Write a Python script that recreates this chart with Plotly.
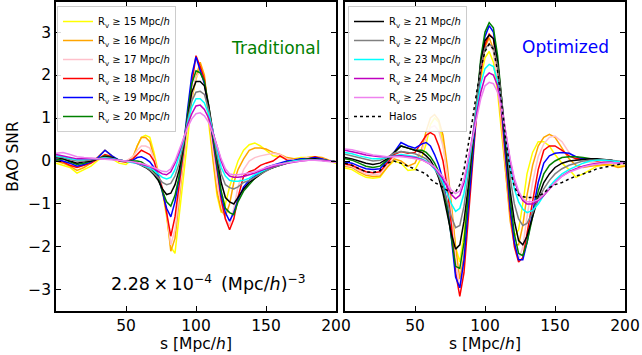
import plotly.graph_objects as go

# ---- data ----
s = [0, 5, 10, 15, 20, 25, 30, 35, 40, 45, 50, 55, 58, 61, 64, 67, 70, 73, 76, 79,
     82, 85, 88, 91, 94, 97, 100, 103, 106, 109, 112, 115, 118, 121, 124, 127, 130,
     134, 138, 142, 146, 150, 155, 160, 165, 170, 175, 180, 185, 190, 195, 200]

labels = ["R<sub>v</sub> ≥ 15 Mpc/<i>h</i>", "R<sub>v</sub> ≥ 16 Mpc/<i>h</i>",
          "R<sub>v</sub> ≥ 17 Mpc/<i>h</i>", "R<sub>v</sub> ≥ 18 Mpc/<i>h</i>",
          "R<sub>v</sub> ≥ 19 Mpc/<i>h</i>", "R<sub>v</sub> ≥ 20 Mpc/<i>h</i>",
          "R<sub>v</sub> ≥ 21 Mpc/<i>h</i>", "R<sub>v</sub> ≥ 22 Mpc/<i>h</i>",
          "R<sub>v</sub> ≥ 23 Mpc/<i>h</i>", "R<sub>v</sub> ≥ 24 Mpc/<i>h</i>",
          "R<sub>v</sub> ≥ 25 Mpc/<i>h</i>"]
halo_label = "Halos"

# Traditional (left panel)
trad_r15 = [-0.05, -0.1, -0.15, -0.28, -0.2, -0.12, 0.02, 0.1, 0.05, -0.05, -0.08, 0.05, 0.35, 0.55, 0.6, 0.55, 0.2, -0.25, -0.7, -1.3,
            -2.0, -2.15, -1.3, -0.3, 0.5, 1.45, 1.9, 2.2, 1.9, 0.9, 0.0, -0.8, -1.2, -1.0, -0.6, -0.3, 0.0,
            0.25, 0.38, 0.42, 0.35, 0.25, 0.12, 0.1, 0.05, 0.05, 0.08, 0.08, 0.1, 0.05, 0.0, -0.05]
trad_r16 = [0.0, -0.05, -0.12, -0.22, -0.15, -0.05, 0.1, 0.25, 0.12, 0.0, -0.02, 0.1, 0.35, 0.55, 0.55, 0.45, 0.1, -0.3, -0.65, -1.2,
            -2.1, -1.8, -0.9, 0.05, 0.9, 1.45, 1.95, 2.3, 2.0, 1.1, 0.1, -0.7, -1.15, -1.28, -1.0, -0.5, -0.2,
            0.05, 0.25, 0.3, 0.3, 0.28, 0.2, 0.15, 0.08, 0.05, 0.05, 0.08, 0.1, 0.08, 0.02, -0.02]
trad_r17 = [0.05, 0.0, -0.08, -0.15, -0.1, -0.05, 0.05, 0.12, 0.08, 0.0, 0.0, 0.1, 0.25, 0.35, 0.35, 0.3, 0.05, -0.3, -0.6, -1.2,
            -1.95, -1.6, -0.8, 0.1, 0.9, 1.5, 1.95, 2.1, 1.85, 1.1, 0.25, -0.5, -1.0, -1.35, -1.5, -1.1, -0.6,
            -0.2, 0.0, 0.08, 0.12, 0.15, 0.18, 0.15, 0.05, 0.02, 0.05, 0.08, 0.05, 0.05, 0.0, -0.03]
trad_r18 = [0.0, -0.02, -0.1, -0.15, -0.1, -0.05, 0.05, 0.15, 0.1, 0.0, -0.02, 0.05, 0.15, 0.25, 0.2, 0.15, 0.0, -0.3, -0.65, -1.2,
            -1.75, -1.3, -0.6, 0.2, 1.0, 1.8, 2.45, 2.2, 1.9, 1.2, 0.4, -0.3, -0.9, -1.35, -1.6, -1.35, -0.85,
            -0.35, -0.25, -0.2, -0.1, -0.05, 0.0, 0.12, 0.02, 0.0, 0.05, 0.05, 0.1, 0.05, 0.0, -0.02]
trad_r19 = [0.05, 0.0, -0.05, -0.12, -0.08, -0.02, 0.08, 0.25, 0.12, 0.02, 0.0, 0.02, 0.08, 0.1, 0.05, -0.02, -0.15, -0.35, -0.7, -1.1,
            -1.3, -0.95, -0.4, 0.3, 1.2, 2.0, 2.42, 2.1, 1.8, 1.2, 0.5, -0.2, -0.8, -1.2, -1.4, -1.2, -0.9,
            -0.6, -0.45, -0.35, -0.25, -0.15, -0.1, -0.05, 0.0, 0.02, 0.05, 0.05, 0.08, 0.05, 0.0, -0.02]
trad_r20 = [0.02, 0.05, -0.02, -0.08, -0.05, 0.0, 0.05, 0.12, 0.08, 0.02, 0.0, 0.0, 0.0, -0.02, -0.08, -0.15, -0.25, -0.4, -0.7, -0.95,
            -1.05, -0.8, -0.35, 0.3, 1.1, 1.8, 2.1, 2.05, 1.85, 1.3, 0.6, -0.1, -0.7, -1.1, -1.2, -1.25, -0.95,
            -0.7, -0.55, -0.4, -0.3, -0.2, -0.15, -0.08, -0.03, 0.0, 0.02, 0.05, 0.05, 0.03, 0.0, -0.02]
trad_r21 = [0.08, 0.05, 0.0, -0.05, -0.02, 0.0, 0.05, 0.1, 0.08, 0.02, 0.0, -0.02, -0.05, -0.1, -0.15, -0.22, -0.32, -0.45, -0.65, -0.78,
            -0.75, -0.55, -0.2, 0.35, 1.0, 1.6, 1.85, 1.85, 1.75, 1.3, 0.7, 0.05, -0.5, -0.85, -0.95, -1.0, -0.85,
            -0.65, -0.5, -0.4, -0.3, -0.22, -0.15, -0.1, -0.05, 0.0, 0.02, 0.03, 0.05, 0.02, 0.0, -0.02]
trad_r22 = [0.1, 0.08, 0.03, 0.0, 0.0, 0.02, 0.05, 0.08, 0.06, 0.02, 0.0, -0.03, -0.06, -0.1, -0.14, -0.2, -0.28, -0.38, -0.5, -0.55,
            -0.52, -0.35, -0.05, 0.4, 0.95, 1.4, 1.6, 1.62, 1.55, 1.2, 0.7, 0.15, -0.3, -0.55, -0.62, -0.65, -0.6,
            -0.5, -0.45, -0.38, -0.3, -0.22, -0.15, -0.1, -0.05, 0.0, 0.02, 0.03, 0.03, 0.02, 0.0, -0.02]
trad_r23 = [0.12, 0.1, 0.06, 0.03, 0.03, 0.05, 0.05, 0.07, 0.05, 0.02, 0.0, -0.03, -0.06, -0.09, -0.12, -0.16, -0.22, -0.3, -0.38, -0.42,
            -0.38, -0.2, 0.1, 0.45, 0.9, 1.25, 1.45, 1.45, 1.35, 1.1, 0.7, 0.25, -0.15, -0.35, -0.45, -0.47, -0.47,
            -0.45, -0.4, -0.32, -0.25, -0.2, -0.12, -0.08, -0.04, 0.0, 0.02, 0.03, 0.03, 0.02, 0.0, -0.02]
trad_r24 = [0.15, 0.12, 0.08, 0.05, 0.05, 0.06, 0.05, 0.05, 0.04, 0.02, 0.0, -0.02, -0.05, -0.08, -0.1, -0.13, -0.18, -0.25, -0.3, -0.32,
            -0.25, -0.05, 0.2, 0.5, 0.85, 1.1, 1.28, 1.3, 1.2, 1.0, 0.7, 0.35, 0.0, -0.25, -0.35, -0.38, -0.38,
            -0.36, -0.32, -0.28, -0.22, -0.18, -0.12, -0.08, -0.05, -0.02, 0.0, 0.02, 0.02, 0.02, 0.0, -0.02]
trad_r25 = [0.18, 0.2, 0.15, 0.1, 0.08, 0.06, 0.05, 0.04, 0.03, 0.02, 0.0, -0.02, -0.04, -0.06, -0.08, -0.12, -0.15, -0.2, -0.24, -0.25,
            -0.18, 0.0, 0.25, 0.5, 0.78, 0.98, 1.1, 1.12, 1.05, 0.9, 0.65, 0.35, 0.05, -0.18, -0.3, -0.32, -0.32,
            -0.3, -0.28, -0.25, -0.2, -0.15, -0.1, -0.07, -0.04, -0.02, 0.0, 0.02, 0.02, 0.0, -0.02, -0.03]

# Optimized (right panel)
opt_r15 = [-0.16, -0.2, -0.3, -0.38, -0.4, -0.38, -0.15, 0.0, -0.05, -0.22, -0.2, 0.1, 0.4, 0.85, 1.0, 0.9, 0.4, -0.3, -1.2, -2.0,
           -2.35, -1.7, -0.7, 0.2, 1.1, 1.9, 2.4, 2.55, 2.3, 1.6, 0.6, -0.4, -1.3, -1.75, -1.6, -1.0, -0.3,
           0.2, 0.45, 0.45, 0.35, 0.15, -0.05, -0.2, -0.38, -0.3, -0.2, -0.12, -0.1, -0.08, -0.12, -0.1]
opt_r16 = [-0.12, -0.15, -0.25, -0.33, -0.36, -0.35, -0.15, 0.05, 0.0, -0.12, -0.05, 0.3, 0.7, 1.0, 1.08, 0.95, 0.6, -0.1, -1.0, -2.0,
           -2.75, -2.2, -1.0, 0.1, 1.2, 2.1, 2.65, 2.87, 2.6, 1.8, 0.7, -0.4, -1.4, -1.95, -1.95, -1.5, -0.8,
           -0.1, 0.35, 0.55, 0.62, 0.55, 0.3, 0.05, -0.1, -0.15, -0.12, -0.1, -0.08, -0.1, -0.15, -0.12]
opt_r17 = [-0.1, -0.13, -0.22, -0.3, -0.32, -0.3, -0.1, 0.1, 0.15, 0.08, 0.05, 0.25, 0.55, 0.78, 0.82, 0.7, 0.35, -0.3, -1.2, -2.3,
           -2.95, -2.4, -1.1, 0.1, 1.2, 2.1, 2.6, 2.75, 2.55, 1.85, 0.85, -0.25, -1.2, -1.9, -2.3, -2.0, -1.3,
           -0.5, 0.1, 0.4, 0.55, 0.58, 0.45, 0.2, 0.05, 0.0, -0.02, -0.05, -0.05, -0.05, -0.08, -0.08]
opt_r18 = [-0.07, -0.1, -0.18, -0.25, -0.27, -0.25, -0.05, 0.15, 0.22, 0.18, 0.2, 0.45, 0.6, 0.66, 0.6, 0.35, 0.0, -0.6, -1.5, -2.6,
           -3.15, -2.6, -1.3, 0.0, 1.1, 2.05, 2.7, 2.95, 2.85, 2.2, 1.1, -0.1, -1.2, -2.0, -2.35, -2.25, -1.7,
           -0.9, -0.2, 0.25, 0.35, 0.35, 0.25, 0.12, 0.05, 0.05, 0.02, 0.0, 0.02, 0.0, -0.03, -0.05]
opt_r19 = [-0.02, -0.05, -0.12, -0.18, -0.2, -0.18, 0.0, 0.2, 0.43, 0.35, 0.3, 0.4, 0.43, 0.35, 0.15, -0.1, -0.45, -1.0, -1.8, -2.7,
           -2.95, -2.3, -1.1, 0.1, 1.3, 2.3, 2.9, 3.15, 3.0, 2.3, 1.2, 0.0, -1.1, -1.9, -2.3, -2.3, -1.9,
           -1.2, -0.5, -0.05, 0.12, 0.18, 0.2, 0.18, 0.1, 0.05, 0.05, 0.02, 0.03, 0.02, -0.02, -0.03]
opt_r20 = [0.05, 0.02, -0.05, -0.12, -0.15, -0.12, 0.02, 0.18, 0.35, 0.3, 0.25, 0.25, 0.2, 0.1, -0.05, -0.25, -0.6, -1.1, -1.8, -2.45,
           -2.5, -1.9, -0.8, 0.3, 1.4, 2.4, 3.0, 3.22, 3.1, 2.45, 1.4, 0.2, -0.9, -1.7, -2.15, -2.2, -1.9,
           -1.3, -0.7, -0.3, -0.1, 0.0, 0.08, 0.1, 0.1, 0.08, 0.05, 0.03, 0.03, 0.02, -0.02, -0.03]
opt_r21 = [0.08, 0.05, 0.0, -0.05, -0.08, -0.05, 0.05, 0.2, 0.35, 0.3, 0.25, 0.2, 0.12, 0.02, -0.15, -0.4, -0.75, -1.2, -1.7, -2.05,
           -1.95, -1.4, -0.6, 0.4, 1.4, 2.3, 2.8, 2.93, 2.85, 2.3, 1.4, 0.3, -0.7, -1.4, -1.85, -1.95, -1.75,
           -1.3, -0.85, -0.5, -0.3, -0.15, -0.05, 0.0, 0.02, 0.03, 0.05, 0.05, 0.03, 0.02, -0.02, -0.03]
opt_r22 = [0.16, 0.12, 0.07, 0.03, 0.0, 0.02, 0.08, 0.18, 0.22, 0.2, 0.17, 0.1, 0.05, -0.05, -0.18, -0.35, -0.6, -0.95, -1.3, -1.55,
           -1.5, -1.05, -0.35, 0.5, 1.4, 2.2, 2.62, 2.72, 2.65, 2.2, 1.4, 0.45, -0.4, -1.0, -1.35, -1.5, -1.45,
           -1.2, -0.9, -0.65, -0.45, -0.3, -0.18, -0.1, -0.05, 0.0, 0.02, 0.03, 0.03, 0.02, 0.0, -0.02]
opt_r23 = [0.2, 0.17, 0.12, 0.08, 0.05, 0.05, 0.08, 0.12, 0.15, 0.13, 0.1, 0.05, 0.0, -0.08, -0.18, -0.3, -0.5, -0.75, -1.0, -1.17,
           -1.1, -0.75, -0.15, 0.5, 1.2, 1.8, 2.15, 2.25, 2.2, 1.85, 1.25, 0.5, -0.15, -0.65, -0.95, -1.12, -1.2,
           -1.15, -1.0, -0.8, -0.6, -0.45, -0.3, -0.2, -0.12, -0.05, 0.0, 0.02, 0.02, 0.0, -0.02, -0.03]
opt_r24 = [0.25, 0.22, 0.18, 0.14, 0.12, 0.1, 0.1, 0.11, 0.12, 0.1, 0.08, 0.03, -0.02, -0.08, -0.16, -0.28, -0.42, -0.6, -0.78, -0.88,
           -0.8, -0.5, 0.0, 0.55, 1.1, 1.6, 1.95, 2.05, 2.0, 1.75, 1.25, 0.6, 0.0, -0.45, -0.75, -0.92, -1.0,
           -1.0, -0.92, -0.8, -0.65, -0.5, -0.35, -0.25, -0.18, -0.12, -0.08, -0.05, -0.03, -0.03, -0.05, -0.05]
opt_r25 = [0.28, 0.26, 0.22, 0.18, 0.14, 0.12, 0.1, 0.1, 0.1, 0.08, 0.06, 0.02, -0.02, -0.07, -0.14, -0.24, -0.36, -0.52, -0.68, -0.76,
           -0.7, -0.42, 0.05, 0.55, 1.05, 1.45, 1.75, 1.83, 1.8, 1.6, 1.2, 0.6, 0.05, -0.4, -0.7, -0.88, -0.95,
           -0.95, -0.9, -0.78, -0.62, -0.5, -0.36, -0.26, -0.2, -0.14, -0.1, -0.07, -0.05, -0.04, -0.05, -0.05]
opt_halos = [-0.05, -0.1, -0.18, -0.25, -0.27, -0.22, -0.05, 0.0, -0.05, -0.12, -0.18, -0.25, -0.3, -0.42, -0.5, -0.55, -0.62, -0.7, -0.75, -0.72,
             -0.55, -0.2, 0.35, 0.95, 1.6, 2.15, 2.55, 2.72, 2.6, 2.1, 1.3, 0.45, -0.2, -0.6, -0.8, -0.82, -0.85,
             -0.85, -0.82, -0.75, -0.62, -0.55, -0.5, -0.42, -0.35, -0.3, -0.25, -0.18, -0.15, -0.12, -0.08, -0.05]

trad = [trad_r15, trad_r16, trad_r17, trad_r18, trad_r19, trad_r20,
        trad_r21, trad_r22, trad_r23, trad_r24, trad_r25]
opt = [opt_r15, opt_r16, opt_r17, opt_r18, opt_r19, opt_r20,
       opt_r21, opt_r22, opt_r23, opt_r24, opt_r25]

colors = ["#ffff00", "#ffa500", "#ffc0cb", "#ff0000", "#0000ff", "#008000",
          "#000000", "#808080", "#00ffff", "#bf00bf", "#ee82ee"]

yticks = [-3, -2, -1, 0, 1, 2, 3]
xticks = [50, 100, 150, 200]

FONT = "DejaVu Sans"
W, H = 642, 355

fig = go.Figure()

for i, ys in enumerate(trad):
    fig.add_trace(go.Scatter(x=s, y=ys, mode="lines", name=labels[i],
                             line=dict(color=colors[i], width=1.5),
                             xaxis="x", yaxis="y", legend="legend",
                             showlegend=(i < 6)))
for i, ys in enumerate(opt):
    fig.add_trace(go.Scatter(x=s, y=ys, mode="lines", name=labels[i],
                             line=dict(color=colors[i], width=1.5),
                             xaxis="x2", yaxis="y2", legend="legend2",
                             showlegend=(i >= 6)))
fig.add_trace(go.Scatter(x=s, y=opt_halos, mode="lines", name=halo_label,
                         line=dict(color="black", width=1.5, dash="dot"),
                         xaxis="x2", yaxis="y2", legend="legend2", showlegend=True))

def px_x(p):
    return p / W

def px_y(p):
    return 1 - p / H

axis_common = dict(showline=True, linecolor="black", linewidth=1.5, mirror="allticks",
                   ticks="inside", ticklen=5, tickwidth=1.2, tickcolor="black",
                   showgrid=False, zeroline=False, automargin=False,
                   tickfont=dict(family=FONT, size=15.5, color="black"))

ydom = [px_y(311), px_y(2)]
fig.update_layout(
    width=W, height=H,
    margin=dict(l=0, r=0, t=0, b=0),
    paper_bgcolor="white", plot_bgcolor="white",
    font=dict(family=FONT, color="black"),
    xaxis=dict(domain=[px_x(56), px_x(336)], range=[0, 200], tickvals=xticks, anchor="y",
               title=dict(text="s [Mpc/<i>h</i>]", font=dict(family=FONT, size=15.5), standoff=4),
               **axis_common),
    xaxis2=dict(domain=[px_x(345), px_x(625)], range=[0, 200], tickvals=xticks, anchor="y2",
                title=dict(text="s [Mpc/<i>h</i>]", font=dict(family=FONT, size=15.5), standoff=4),
                **axis_common),
    yaxis=dict(domain=ydom, range=[-3.49, 3.7], tickvals=yticks, anchor="x",
               title=dict(text="BAO SNR", font=dict(family=FONT, size=15.5), standoff=6),
               **axis_common),
    yaxis2=dict(domain=ydom, range=[-3.49, 3.7], tickvals=yticks, anchor="x2",
                showticklabels=False, **axis_common),
    legend=dict(x=px_x(57), y=px_y(6), xanchor="left", yanchor="top",
                bgcolor="rgba(255,255,255,0.85)", bordercolor="#cccccc", borderwidth=1,
                font=dict(family=FONT, size=10, color="black"), itemwidth=30),
    legend2=dict(x=px_x(348), y=px_y(6), xanchor="left", yanchor="top",
                 bgcolor="rgba(255,255,255,0.85)", bordercolor="#cccccc", borderwidth=1,
                 font=dict(family=FONT, size=10, color="black"), itemwidth=30),
    annotations=[
        dict(text="Traditional", x=px_x(276), y=px_y(48), xref="paper", yref="paper",
             xanchor="center", yanchor="middle",
             showarrow=False, font=dict(family=FONT, size=17, color="#008000")),
        dict(text="Optimized", x=px_x(565), y=px_y(47), xref="paper", yref="paper",
             xanchor="center", yanchor="middle",
             showarrow=False, font=dict(family=FONT, size=17, color="#0000ff")),
        dict(text="2.28\u2009×\u200910<sup>−4</sup>\u2009 (Mpc/<i>h</i>)<sup>−3</sup>",
             x=px_x(208), y=px_y(283), xref="paper", yref="paper",
             xanchor="center", yanchor="middle", showarrow=False,
             font=dict(family=FONT, size=17.5, color="black")),
    ],
)

fig.write_html("out.html", config={"displayModeBar": False},
               post_script="document.body.style.margin='0px';document.body.style.padding='0px';")
